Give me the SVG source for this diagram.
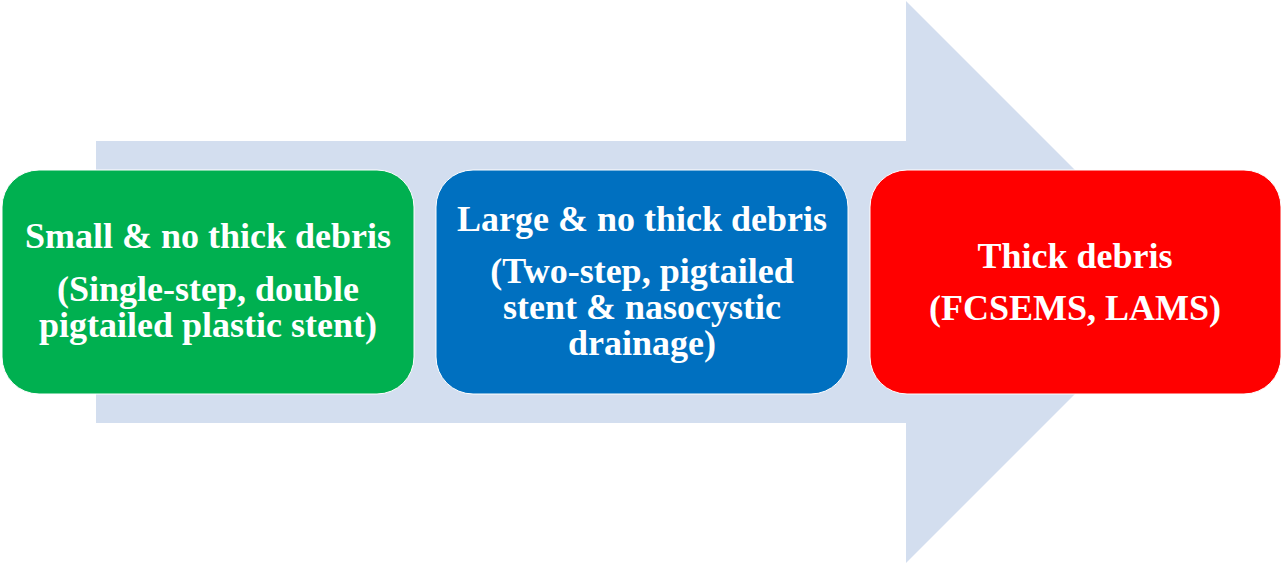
<svg xmlns="http://www.w3.org/2000/svg" width="1283" height="564" viewBox="0 0 1283 564">
<style>
.box{stroke:#ffffff;stroke-width:1}
.t{font-family:"Liberation Serif","Times New Roman",serif;font-weight:bold;font-size:36px;fill:#ffffff;text-anchor:middle}
</style>
<rect width="1283" height="564" fill="#ffffff"/>
<g id="arrow">
<polygon points="96,141 906,141 906,1 1187,282 906,563 906,423 96,423" fill="#D3DEEF"/>
</g>
<g id="connectors"></g>
<g id="node1">
<rect class="box" x="2" y="170" width="412" height="224" rx="37" fill="#00B050"/>
<text class="t" x="208" y="248">Small &amp; no thick debris</text>
<text class="t" x="208" y="301">(Single-step, double</text>
<text class="t" x="208" y="337">pigtailed plastic stent)</text>
</g>
<g id="node2">
<rect class="box" x="436" y="170" width="412" height="224" rx="37" fill="#0070C0"/>
<text class="t" x="642" y="231">Large &amp; no thick debris</text>
<text class="t" x="642" y="283">(Two-step, pigtailed</text>
<text class="t" x="642" y="319">stent &amp; nasocystic</text>
<text class="t" x="642" y="355">drainage)</text>
</g>
<g id="node3">
<rect class="box" x="870" y="170" width="411" height="224" rx="37" fill="#FF0000"/>
<text class="t" x="1075" y="268">Thick debris</text>
<text class="t" x="1075" y="320">(FCSEMS, LAMS)</text>
</g>
</svg>
